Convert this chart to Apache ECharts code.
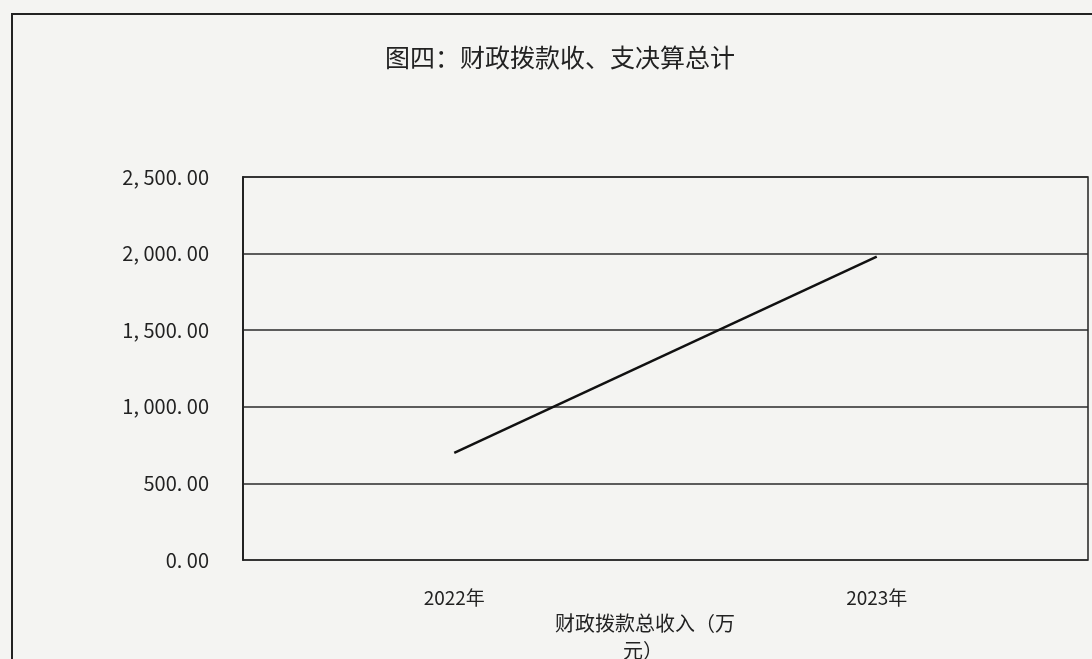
<!DOCTYPE html>
<html><head><meta charset="utf-8">
<script src="https://cdn.jsdelivr.net/npm/echarts@6/dist/echarts.min.js"></script>
<style>
html,body{margin:0;padding:0;background:#f4f4f2;}
#frame{position:absolute;left:11px;top:13px;width:1100px;height:700px;border-left:2px solid #222;border-top:2px solid #222;}
#c{position:absolute;left:0;top:0;width:1092px;height:659px;}
</style></head>
<body>
<div id="frame"></div>
<div id="c"></div>
<script>
const titleText = '图四：财政拨款收、支决算总计';
const categories = ['2022年', '2023年'];
const seriesName = '财政拨款总收入（万元）';
const incomeValues = [700, 1980];
const yTicks = [0, 500, 1000, 1500, 2000, 2500];

function fmt(v) {
  const s = v.toFixed(2);
  const parts = s.split('.');
  const intPart = parts[0].replace(/\B(?=(\d{3})+(?!\d))/g, ', ');
  return intPart + '. ' + parts[1];
}

const chart = echarts.init(document.getElementById('c'));
chart.setOption({
  backgroundColor: 'transparent',
  animation: false,
  title: {
    text: titleText, left: 555, top: 40, textAlign: 'center',
    textStyle: { fontFamily: 'Noto Sans CJK SC', fontSize: 25, fontWeight: 'normal', color: '#222' }
  },
  legend: {
    data: [seriesName], left: 545, top: 605, icon: 'none', itemWidth: 0, itemGap: 0,
    formatter: function () { return '财政拨款总收入（万\n{p|}元）'; },
    textStyle: { fontFamily: 'Noto Sans CJK SC', fontSize: 20, color: '#222', lineHeight: 27,
      rich: { p: { width: 68 } } }
  },
  grid: {
    left: 243, right: 4, top: 177, bottom: 99, show: true,
    borderColor: '#222', borderWidth: 1.5, backgroundColor: 'transparent'
  },
  xAxis: {
    type: 'category', data: categories, boundaryGap: true,
    axisLine: { show: false }, axisTick: { show: false },
    axisLabel: { margin: 28, fontFamily: 'Noto Sans CJK SC', fontSize: 19, color: '#222' }
  },
  yAxis: {
    type: 'value', min: yTicks[0], max: yTicks[yTicks.length - 1], interval: 500,
    axisLine: { show: true, lineStyle: { color: '#222', width: 2 } },
    axisTick: { show: false },
    splitLine: { lineStyle: { color: '#2a2a2a', width: 1.5 } },
    axisLabel: { margin: 34, fontFamily: 'Noto Sans CJK SC', fontSize: 20, color: '#222', formatter: fmt }
  },
  series: [{
    name: seriesName, type: 'line', data: incomeValues, symbol: 'none',
    lineStyle: { color: '#111', width: 2.5 }
  }]
});
</script>
</body></html>
